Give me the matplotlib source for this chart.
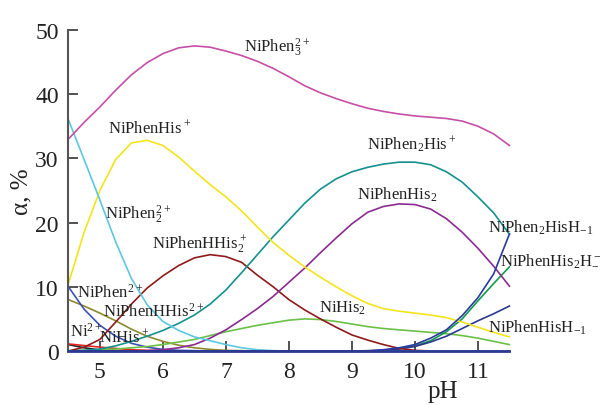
import numpy as np
import matplotlib
matplotlib.use("Agg")
import matplotlib.pyplot as plt

plt.rcParams['font.family'] = ['Liberation Serif', 'DejaVu Serif']
plt.rcParams['mathtext.default'] = 'regular'

ph = [4.5, 4.75, 5.0, 5.25, 5.5, 5.75, 6.0, 6.25, 6.5, 6.75, 7.0, 7.25, 7.5, 7.75,
      8.0, 8.25, 8.5, 8.75, 9.0, 9.25, 9.5, 9.75, 10.0, 10.25, 10.5, 10.75, 11.0, 11.25, 11.5]

niphen3 = [33.0, 35.6, 38.0, 40.6, 43.0, 44.9, 46.3, 47.2, 47.5, 47.3, 46.7, 46.0, 45.1, 44.0,
           42.7, 41.3, 40.2, 39.3, 38.5, 37.8, 37.3, 36.9, 36.6, 36.4, 36.2, 35.8, 35.0, 33.8, 32.0]
niphen2 = [36.0, 29.8, 23.5, 17.0, 11.3, 7.2, 4.6, 3.2, 2.2, 1.6, 1.0, 0.5, 0.2, 0.05,
           0, 0, 0, 0, 0, 0, 0, 0, 0, 0, 0, 0, 0, 0, 0]
niphenhis = [10.5, 18.5, 25.0, 29.8, 32.4, 32.8, 32.0, 30.2, 28.0, 25.9, 24.0, 21.8, 19.3, 16.9,
             14.9, 13.1, 11.5, 10.0, 8.6, 7.4, 6.6, 6.2, 5.9, 5.6, 5.2, 4.5, 3.7, 2.9, 2.2]
niphen2his = [0.0, 0.1, 0.3, 0.8, 1.5, 2.3, 3.2, 4.3, 5.6, 7.3, 9.5, 12.2, 15.0, 17.8,
              20.4, 23.0, 25.2, 26.8, 27.9, 28.6, 29.1, 29.4, 29.4, 29.0, 27.9, 26.3, 24.0, 21.5, 18.2]
niphenhis2 = [0, 0, 0, 0, 0, 0.05, 0.2, 0.5, 1.0, 2.0, 3.3, 4.9, 6.6, 8.5,
              10.7, 12.9, 15.3, 17.6, 19.8, 21.6, 22.5, 22.9, 22.8, 22.1, 20.6, 18.5, 16.0, 13.2, 10.1]
niphenhhis2 = [0.0, 0.6, 1.8, 4.5, 7.3, 9.8, 11.7, 13.3, 14.5, 15.0, 14.7, 13.8, 11.8, 10.0,
               8.0, 6.4, 5.0, 3.7, 2.5, 1.7, 1.0, 0.4, 0.1, 0, 0, 0, 0, 0, 0]
nihis2 = [0, 0.1, 0.2, 0.3, 0.5, 0.7, 1.0, 1.4, 1.8, 2.4, 3.0, 3.5, 4.0, 4.4,
          4.8, 5.0, 4.9, 4.6, 4.2, 3.8, 3.5, 3.3, 3.1, 2.9, 2.7, 2.4, 2.0, 1.5, 1.0]
niphen2hish = [0, 0, 0, 0, 0, 0, 0, 0, 0, 0, 0, 0, 0, 0,
               0, 0, 0, 0, 0.0, 0.05, 0.2, 0.5, 1.0, 2.0, 3.3, 5.5, 8.3, 12.0, 18.2]
niphenhis2h = [0, 0, 0, 0, 0, 0, 0, 0, 0, 0, 0, 0, 0, 0,
               0, 0, 0, 0, 0, 0, 0.1, 0.4, 0.8, 1.6, 3.0, 5.0, 7.8, 10.5, 13.1]
niphenhish = [0, 0, 0, 0, 0, 0, 0, 0, 0, 0, 0, 0, 0, 0,
              0, 0, 0, 0, 0, 0, 0.1, 0.3, 0.7, 1.4, 2.3, 3.5, 4.7, 5.8, 7.0]
niphen = [10.0, 6.5, 4.0, 2.3, 1.2, 0.6, 0.25, 0.1, 0.05, 0, 0, 0, 0, 0,
          0, 0, 0, 0, 0, 0, 0, 0, 0, 0, 0, 0, 0, 0, 0]
niphenhhis = [8.0, 7.0, 5.9, 4.7, 3.4, 2.3, 1.5, 0.9, 0.5, 0.25, 0.1, 0.05, 0, 0,
              0, 0, 0, 0, 0, 0, 0, 0, 0, 0, 0, 0, 0, 0, 0]
ni = [1.1, 0.85, 0.6, 0.4, 0.2, 0.1, 0.05, 0, 0, 0, 0, 0, 0, 0,
      0, 0, 0, 0, 0, 0, 0, 0, 0, 0, 0, 0, 0, 0, 0]
nihis = [1.0, 0.5, 0.15, 0, 0, 0, 0, 0, 0, 0, 0, 0, 0, 0,
         0, 0, 0, 0, 0, 0, 0, 0, 0, 0, 0, 0, 0, 0, 0]

curves = [
    (nihis, "#222222"),
    (ni, "#e02424"),
    (niphenhhis, "#8c8a2e"),
    (niphen, "#3a52b4"),
    (nihis2, "#6cbf47"),
    (niphenhis2h, "#139a4c"),
    (niphenhish, "#2b3990"),
    (niphenhhis2, "#8e1b1b"),
    (niphenhis2, "#8b2b92"),
    (niphen2his, "#14908f"),
    (niphenhis, "#f3e41c"),
    (niphen2, "#5cc8df"),
    (niphen3, "#c64fa6"),
    (niphen2hish, "#2b3aa0"),
]

labels = [
    (7.29, 47.4, r"NiPhen$_3^{2+}$"),
    (5.13, 34.8, r"NiPhenHis$^+$"),
    (5.08, 21.3, r"NiPhen$_2^{2+}$"),
    (5.83, 16.6, r"NiPhenHHis$_2^+$"),
    (9.24, 32.3, r"NiPhen$_2$His$^+$"),
    (9.08, 24.4, r"NiPhenHis$_2$"),
    (11.16, 19.3, r"NiPhen$_2$HisH$_{-1}$"),
    (11.35, 14.0, r"NiPhenHis$_2$H$_{-1}^-$"),
    (11.16, 3.7, r"NiPhenHisH$_{-1}$"),
    (8.48, 6.8, r"NiHis$_2$"),
    (4.64, 9.2, r"NiPhen$^{2+}$"),
    (5.05, 6.2, r"NiPhenHHis$^{2+}$"),
    (4.52, 3.1, r"Ni$^{2+}$"),
    (4.99, 2.3, r"NiHis$^+$"),
]

fig = plt.figure(figsize=(6, 4.06), dpi=100)
ax = fig.add_axes([0.114, 0.133, 0.735, 0.791])

for vals, col in curves:
    ax.plot(ph, vals, color=col, lw=1.2, clip_on=False)

for x, y, s in labels:
    ax.text(x, y, s, fontsize=12, color="#222222", ha="left", va="center")

ax.set_xlim(4.5, 11.5)
ax.set_ylim(0, 50)
ax.set_xticks([5, 6, 7, 8, 9, 10, 11])
ax.set_yticks([0, 10, 20, 30, 40, 50])
ax.tick_params(direction="in", length=7, width=1.2, color="#333333",
               labelsize=17, labelcolor="#222222", pad=7)
for side in ["top", "right"]:
    ax.spines[side].set_visible(False)
ax.spines["left"].set_color("#555555")
ax.spines["left"].set_linewidth(1.5)
ax.spines["bottom"].set_color("#2b3990")
ax.spines["bottom"].set_linewidth(2)

ax.set_ylabel(r"α, %", fontsize=18, color="#222222", labelpad=2)
ax.text(10.45, -6.3, "pH", fontsize=18, color="#222222", ha="center", va="center")

fig.savefig("out.png", dpi=100)
